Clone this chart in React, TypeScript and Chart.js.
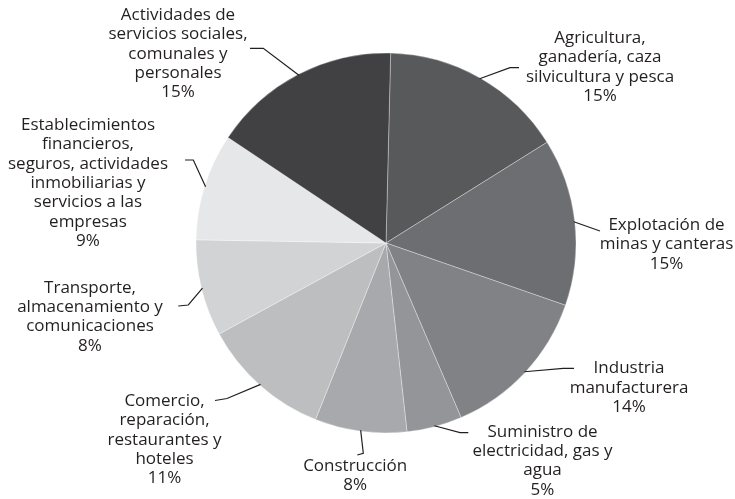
import React, { useEffect, useRef } from "react";
import { Chart, registerables } from "chart.js";

Chart.register(...registerables);

// ---- Data ----
const categories: string[][] = [
  ["Agricultura,", "ganadería, caza", "silvicultura y pesca"],
  ["Explotación de", "minas y canteras"],
  ["Industria", "manufacturera"],
  ["Suministro de", "electricidad, gas y", "agua"],
  ["Construcción"],
  ["Comercio,", "reparación,", "restaurantes y", "hoteles"],
  ["Transporte,", "almacenamiento y", "comunicaciones"],
  ["Establecimientos", "financieros,", "seguros, actividades", "inmobiliarias y", "servicios a las", "empresas"],
  ["Actividades de", "servicios sociales,", "comunales y", "personales"],
];
const values: number[] = [15.7, 14.2, 13.2, 4.7, 7.8, 11.0, 8.2, 9.1, 16.0];
const percentLabels: string[] = ["15%", "15%", "14%", "5%", "8%", "11%", "8%", "9%", "15%"];
const sliceColors: string[] = [
  "#58595b",
  "#6d6e71",
  "#808285",
  "#939598",
  "#a7a9ac",
  "#bcbec0",
  "#d1d3d4",
  "#e6e7e8",
  "#414042",
];

// ---- Label layout (relative to pie centre) ----
const labelLayout = [
  { elbow: [124, -175.3], end: [133, -175.3], text: [214, -200] },
  { elbow: [214, -12], end: [214, -12], text: [280.5, -13] },
  { elbow: [177.3, 125.3], end: [188, 125.3], text: [243, 130.3] },
  { elbow: [74, 189.7], end: [82.3, 189.7], text: [156.5, 193.7] },
  { elbow: [-22.7, 210.3], end: [-28.7, 212], text: [-30.8, 227.7] },
  { elbow: [-159, 155.5], end: [-171, 157.5], text: [-221.5, 163] },
  { elbow: [-197.7, 62], end: [-207.7, 63], text: [-296, 49.7] },
  { elbow: [-192.7, -83], end: [-201, -83], text: [-298, -113] },
  { elbow: [-122.7, -194.7], end: [-136, -194.7], text: [-208, -223] },
];

const FONT = "17px 'Open Sans', 'Noto Sans', sans-serif";
const LINE_H = 19.3;
const INK = "#231f20";

const labelPlugin = {
  id: "pieLabels",
  afterDatasetsDraw(chart: any) {
    const ctx = chart.ctx as CanvasRenderingContext2D;
    const meta = chart.getDatasetMeta(0);
    ctx.save();
    meta.data.forEach((arc: any, i: number) => {
      const { x, y, startAngle, endAngle, outerRadius } = arc.getProps(
        ["x", "y", "startAngle", "endAngle", "outerRadius"],
        true
      );
      const lay = labelLayout[i];
      const mid = (startAngle + endAngle) / 2;
      const r = outerRadius - 1;
      const sx = x + Math.cos(mid) * r;
      const sy = y + Math.sin(mid) * r;
      ctx.strokeStyle = INK;
      ctx.lineWidth = 1.2;
      ctx.beginPath();
      ctx.moveTo(sx, sy);
      ctx.lineTo(x + lay.elbow[0], y + lay.elbow[1]);
      ctx.lineTo(x + lay.end[0], y + lay.end[1]);
      ctx.stroke();

      const lines = [...categories[i], percentLabels[i]];
      ctx.fillStyle = INK;
      ctx.font = FONT;
      ctx.textAlign = "center";
      ctx.textBaseline = "alphabetic";
      lines.forEach((t, k) => {
        ctx.fillText(t, x + lay.text[0], y + lay.text[1] + k * LINE_H);
      });
    });
    ctx.restore();
  },
};

export default function App() {
  const canvasRef = useRef<HTMLCanvasElement | null>(null);

  useEffect(() => {
    if (!canvasRef.current) return;
    const chart = new Chart(canvasRef.current, {
      type: "pie",
      data: {
        labels: categories.map((c) => c.join(" ")),
        datasets: [
          {
            data: values,
            backgroundColor: sliceColors,
            borderColor: "rgba(255,255,255,0.55)",
            borderWidth: 0.6,
            radius: 190,
          } as any,
        ],
      },
      options: {
        responsive: false,
        animation: false,
        devicePixelRatio: 1,
        rotation: 1.4,
        layout: { padding: { left: 37, right: 0, top: 0, bottom: 13 } },
        plugins: {
          legend: { display: false },
          tooltip: { enabled: false },
        },
      } as any,
      plugins: [labelPlugin],
    });
    return () => chart.destroy();
  }, []);

  return (
    <div
      style={{
        position: "fixed",
        left: 0,
        top: 0,
        width: 735,
        height: 499,
        background: "#ffffff",
      }}
    >
      <canvas ref={canvasRef} width={735} height={499} style={{ display: "block" }} />
    </div>
  );
}
